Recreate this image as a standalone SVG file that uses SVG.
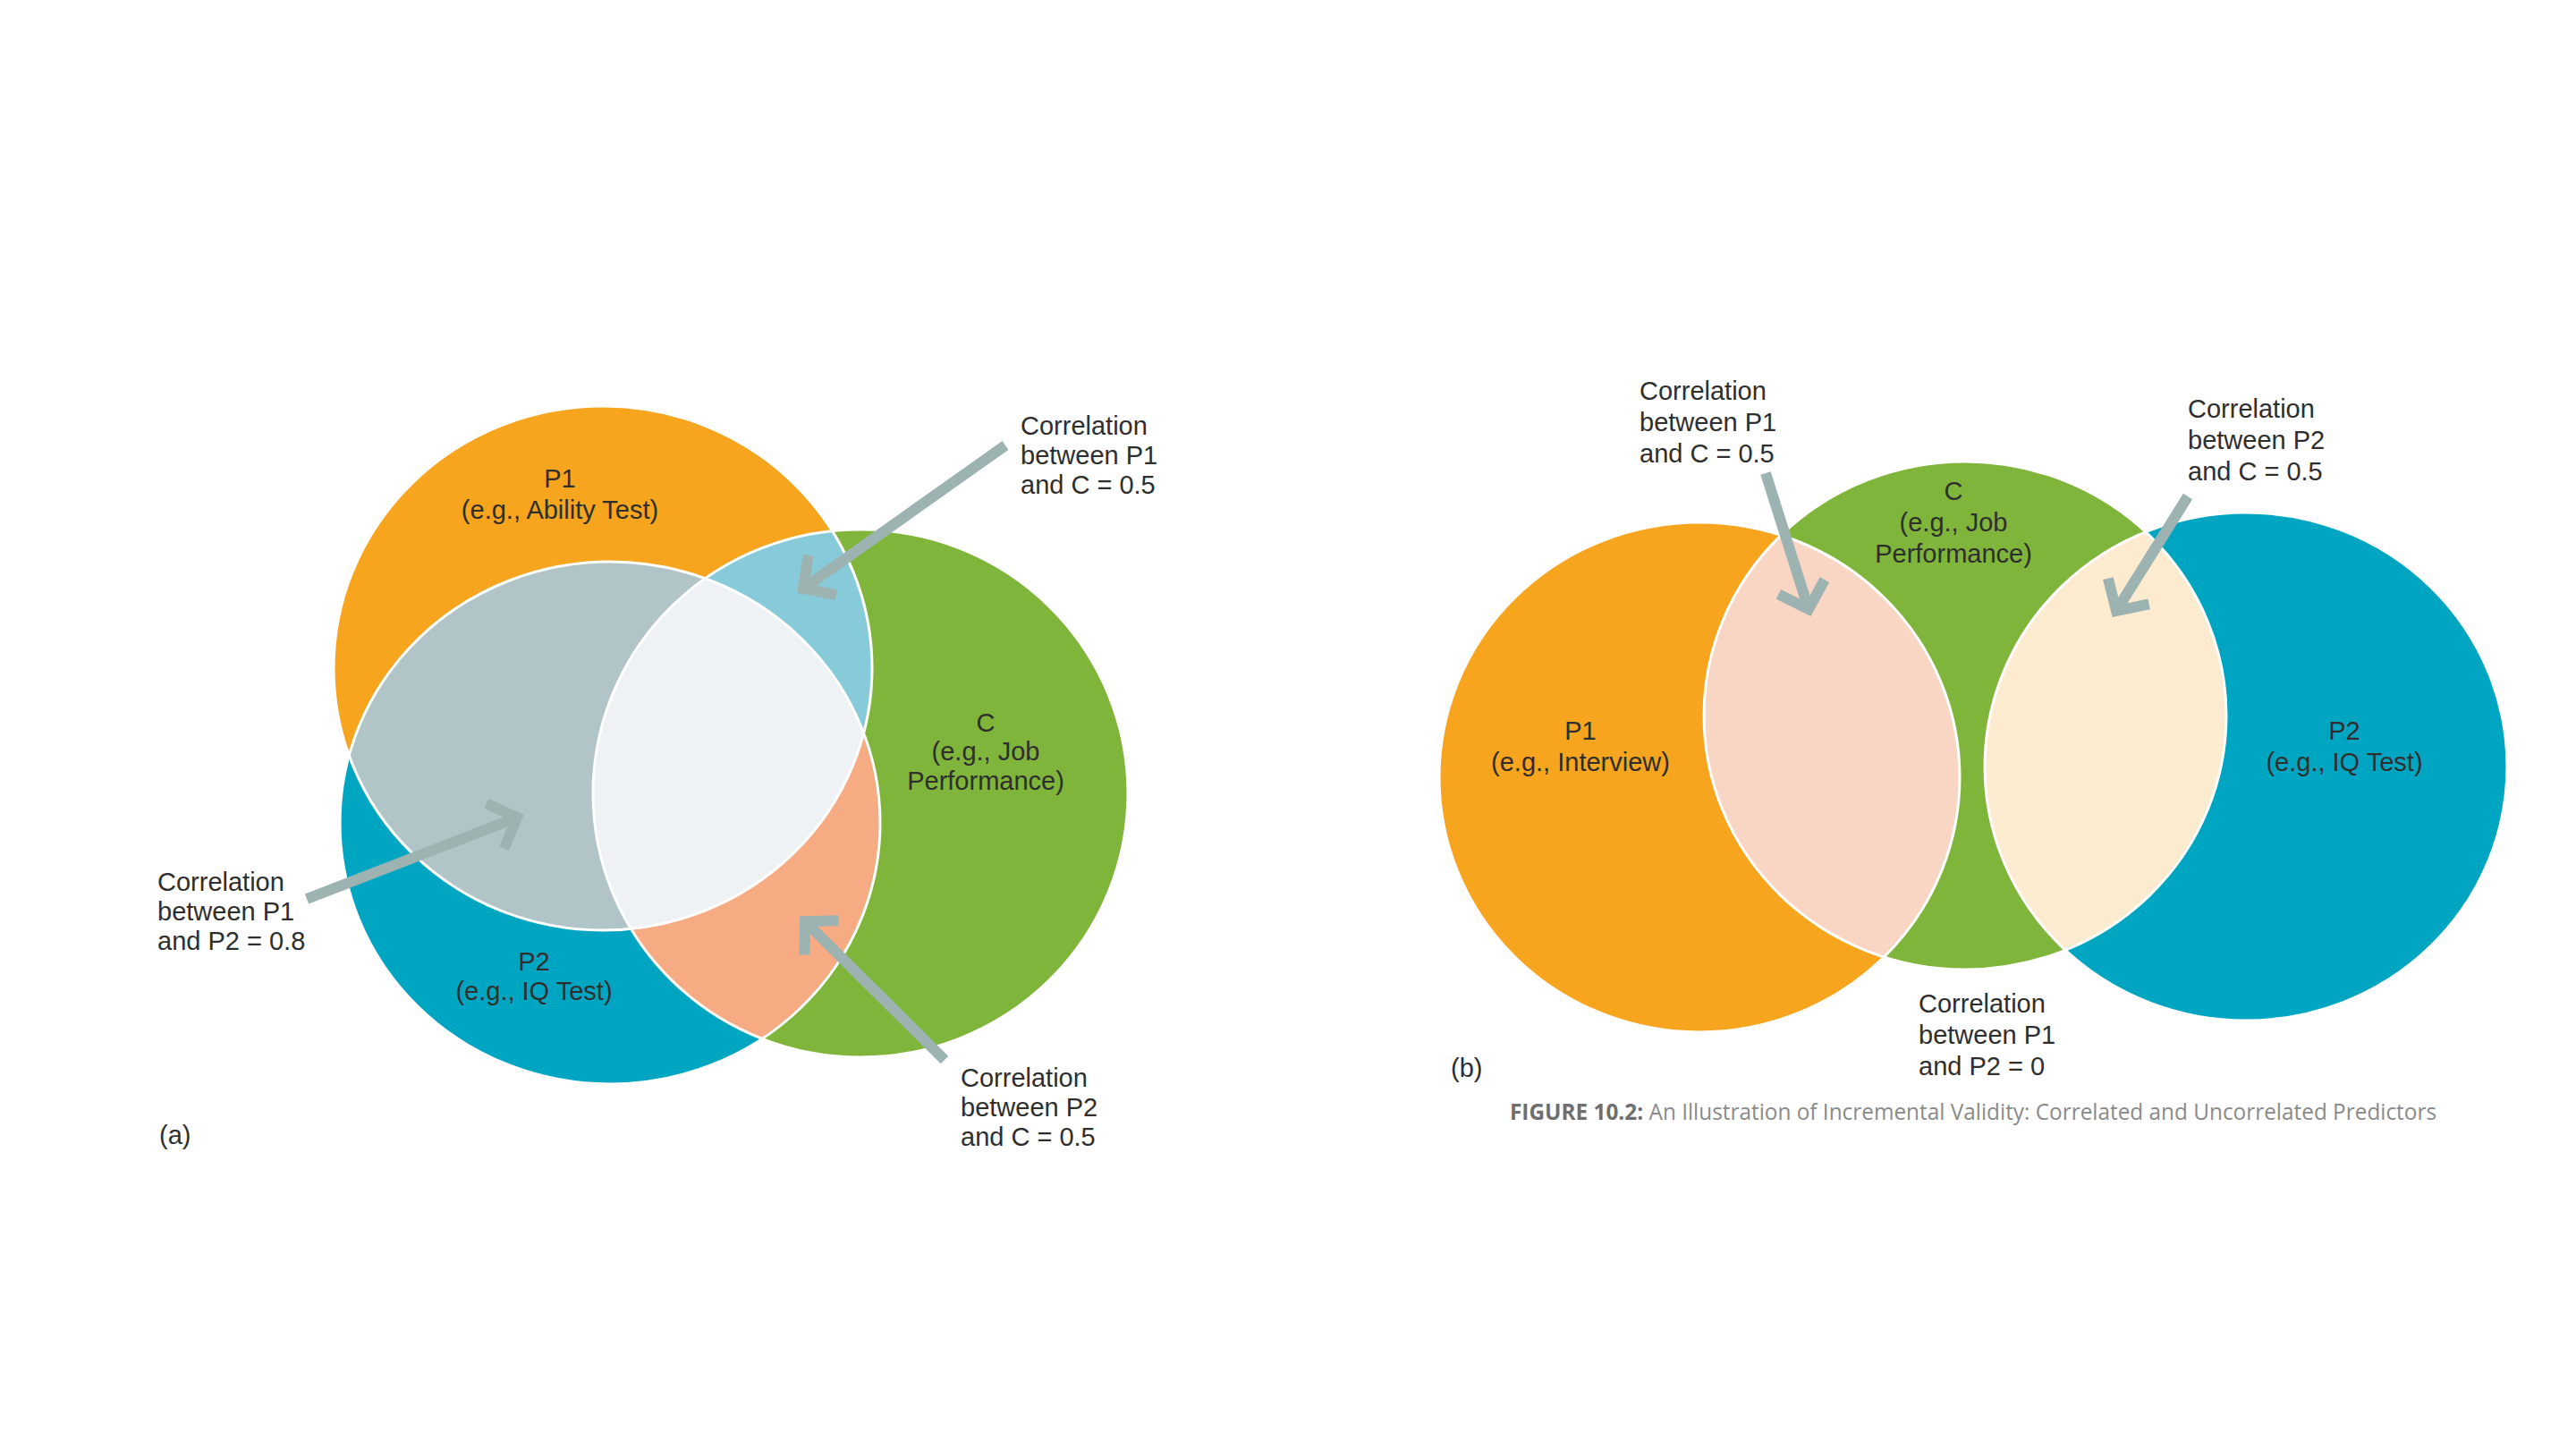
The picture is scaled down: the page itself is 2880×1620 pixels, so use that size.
<svg xmlns="http://www.w3.org/2000/svg" width="2880" height="1620" viewBox="0 0 2880 1620">
<style>
.t{font-family:"Liberation Sans",Arial,sans-serif;font-size:29px;fill:#2e2e2e}
.c{text-anchor:middle}
.sep{fill:none;stroke:#ffffff;stroke-width:3}
.arr{stroke:#9db3b1;stroke-width:12;fill:none}
.cap{font-family:"Open Sans",sans-serif;font-size:25px;fill:#8a8a8a}
</style>
<defs>
<marker id="head" markerUnits="userSpaceOnUse" markerWidth="80" markerHeight="80" viewBox="-50 -40 80 80" refX="0" refY="0" orient="auto">
<path d="M -26,-27 L 0,0 L -26,27" fill="none" stroke="#9db3b1" stroke-width="12" stroke-linejoin="miter" stroke-miterlimit="4"/>
</marker>
<clipPath id="ca1"><ellipse cx="674" cy="747" rx="301" ry="293"/></clipPath>
<clipPath id="ca2"><ellipse cx="682" cy="920" rx="302" ry="292"/></clipPath>
<clipPath id="cb1"><ellipse cx="1900" cy="869" rx="291" ry="285"/></clipPath>
<clipPath id="cb2"><ellipse cx="2511" cy="857" rx="292" ry="284"/></clipPath>
</defs>
<rect width="2880" height="1620" fill="#ffffff"/>

<!-- Diagram (a) -->
<g id="a-P1"><ellipse cx="674" cy="747" rx="301" ry="293" fill="#f7a51e"/></g>
<g id="a-P2"><ellipse cx="682" cy="920" rx="302" ry="292" fill="#00a6c1"/></g>
<g id="a-C"><ellipse cx="962" cy="887" rx="299" ry="295" fill="#80b53b"/></g>
<g id="a-P1C"><ellipse cx="962" cy="887" rx="299" ry="295" fill="#87cbdb" clip-path="url(#ca1)"/></g>
<g id="a-P2C"><ellipse cx="962" cy="887" rx="299" ry="295" fill="#f6ab83" clip-path="url(#ca2)"/></g>
<g id="a-P1P2"><ellipse cx="674" cy="747" rx="301" ry="293" fill="#b1c4c8" clip-path="url(#ca2)"/></g>
<g id="a-P1P2C"><g clip-path="url(#ca2)"><ellipse cx="962" cy="887" rx="299" ry="295" fill="#eef2f5" clip-path="url(#ca1)"/></g></g>
<g id="a-lines">
<ellipse class="sep" cx="674" cy="747" rx="301" ry="293"/>
<ellipse class="sep" cx="682" cy="920" rx="302" ry="292"/>
<ellipse class="sep" cx="962" cy="887" rx="299" ry="295"/>
</g>

<!-- Diagram (b) -->
<g id="b-P1"><ellipse cx="1900" cy="869" rx="291" ry="285" fill="#f7a51e"/></g>
<g id="b-C"><ellipse cx="2197" cy="800" rx="292" ry="284" fill="#80b53b"/></g>
<g id="b-P2"><ellipse cx="2511" cy="857" rx="292" ry="284" fill="#00a6c1"/></g>
<g id="b-P1C"><ellipse cx="2197" cy="800" rx="292" ry="284" fill="#f9d6c4" clip-path="url(#cb1)"/></g>
<g id="b-P2C"><ellipse cx="2197" cy="800" rx="292" ry="284" fill="#fdebd0" clip-path="url(#cb2)"/></g>
<g id="b-lines">
<ellipse class="sep" cx="1900" cy="869" rx="291" ry="285"/>
<ellipse class="sep" cx="2197" cy="800" rx="292" ry="284"/>
<ellipse class="sep" cx="2511" cy="857" rx="292" ry="284"/>
</g>

<!-- Connectors -->
<g id="connectors">
<line class="arr" x1="1124" y1="498" x2="898" y2="658" marker-end="url(#head)"/>
<line class="arr" x1="343" y1="1005" x2="578" y2="914" marker-end="url(#head)"/>
<line class="arr" x1="1056" y1="1185" x2="900" y2="1030" marker-end="url(#head)"/>
<line class="arr" x1="1974" y1="529" x2="2022" y2="681" marker-end="url(#head)"/>
<line class="arr" x1="2446" y1="555" x2="2366" y2="683" marker-end="url(#head)"/>
</g>

<!-- Labels (a) -->
<g id="a-labels">
<text class="t c" x="626" y="545">P1</text>
<text class="t c" x="626" y="580">(e.g., Ability Test)</text>
<text class="t c" x="1102" y="818">C</text>
<text class="t c" x="1102" y="850">(e.g., Job</text>
<text class="t c" x="1102" y="883">Performance)</text>
<text class="t c" x="597" y="1085">P2</text>
<text class="t c" x="597" y="1118">(e.g., IQ Test)</text>
<text class="t" x="1141" y="486">Correlation</text>
<text class="t" x="1141" y="519">between P1</text>
<text class="t" x="1141" y="552">and C = 0.5</text>
<text class="t" x="176" y="996">Correlation</text>
<text class="t" x="176" y="1029">between P1</text>
<text class="t" x="176" y="1062">and P2 = 0.8</text>
<text class="t" x="1074" y="1215">Correlation</text>
<text class="t" x="1074" y="1248">between P2</text>
<text class="t" x="1074" y="1281">and C = 0.5</text>
<text class="t" x="178" y="1279">(a)</text>
</g>

<!-- Labels (b) -->
<g id="b-labels">
<text class="t" x="1833" y="447">Correlation</text>
<text class="t" x="1833" y="482">between P1</text>
<text class="t" x="1833" y="517">and C = 0.5</text>
<text class="t" x="2446" y="467">Correlation</text>
<text class="t" x="2446" y="502">between P2</text>
<text class="t" x="2446" y="537">and C = 0.5</text>
<text class="t c" x="2184" y="559">C</text>
<text class="t c" x="2184" y="594">(e.g., Job</text>
<text class="t c" x="2184" y="629">Performance)</text>
<text class="t c" x="1767" y="827">P1</text>
<text class="t c" x="1767" y="862">(e.g., Interview)</text>
<text class="t c" x="2621" y="827">P2</text>
<text class="t c" x="2621" y="862">(e.g., IQ Test)</text>
<text class="t" x="2145" y="1132">Correlation</text>
<text class="t" x="2145" y="1167">between P1</text>
<text class="t" x="2145" y="1202">and P2 = 0</text>
<text class="t" x="1622" y="1204">(b)</text>
</g>

<g id="caption">
<text class="cap" x="1688" y="1252" textLength="1036" lengthAdjust="spacingAndGlyphs"><tspan font-weight="bold" fill="#6e6e6e">FIGURE 10.2:</tspan> An Illustration of Incremental Validity: Correlated and Uncorrelated Predictors</text>
</g>
</svg>
